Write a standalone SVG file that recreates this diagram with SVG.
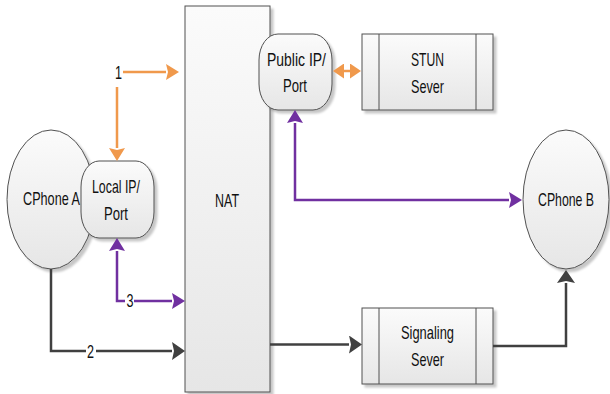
<svg xmlns="http://www.w3.org/2000/svg" width="610" height="394" viewBox="0 0 610 394">
<style>
.shape{fill:url(#g);stroke:#505050;stroke-width:1;filter:url(#sh)}
.in{fill:none;stroke:#505050;stroke-width:1}
text{font-family:"Liberation Sans",Arial,sans-serif;font-size:18.5px;fill:#111;text-anchor:middle}
.c{fill:none;stroke-width:2.5}
.or{stroke:#F0994C}
.pu{stroke:#7030A0}
.dk{stroke:#404040}
.lb{fill:#fff}
</style>
<defs>
<linearGradient id="g" x1="0" y1="0" x2="0" y2="1">
<stop offset="0" stop-color="#fbfbfb"/>
<stop offset="1" stop-color="#e6e6e6"/>
</linearGradient>
<filter id="sh" x="-10%" y="-10%" width="130%" height="130%">
<feDropShadow dx="3" dy="3" stdDeviation="1" flood-color="#000" flood-opacity="0.22"/>
</filter>
<marker id="ao" markerUnits="userSpaceOnUse" markerWidth="14" markerHeight="16" refX="0" refY="8" orient="auto-start-reverse" viewBox="0 0 14 16">
<path d="M0,0 L13,8 L0,16 L2,8 z" fill="#F0994C"/>
</marker>
<marker id="ao2" markerUnits="userSpaceOnUse" markerWidth="12" markerHeight="15" refX="1" refY="7.5" orient="auto-start-reverse" viewBox="0 0 12 15">
<path d="M0,0 L11,7.5 L0,15 z" fill="#F0994C"/>
</marker>
<marker id="ap" markerUnits="userSpaceOnUse" markerWidth="14" markerHeight="16" refX="0" refY="8" orient="auto-start-reverse" viewBox="0 0 14 16">
<path d="M0,0 L13,8 L0,16 L2,8 z" fill="#7030A0"/>
</marker>
<marker id="ad" markerUnits="userSpaceOnUse" markerWidth="14" markerHeight="18" refX="0" refY="9" orient="auto-start-reverse" viewBox="0 0 14 18">
<path d="M0,0 L13,9 L0,18 L2,9 z" fill="#404040"/>
</marker>
</defs>
<rect width="610" height="394" fill="#fff"/>

<g id="nat">
<rect class="shape" x="185" y="6" width="85" height="386"/>
<text x="227" y="207" textLength="24" lengthAdjust="spacingAndGlyphs">NAT</text>
</g>

<g id="public-ip">
<rect class="shape" x="259" y="34" width="73" height="76" rx="19" ry="26"/>
<text x="296.5" y="66" textLength="59" lengthAdjust="spacingAndGlyphs">Public IP/</text>
<text x="295" y="92" textLength="24" lengthAdjust="spacingAndGlyphs">Port</text>
</g>

<g id="stun">
<rect class="shape" x="362" y="34" width="131" height="76"/>
<line class="in" x1="379" y1="34" x2="379" y2="110"/>
<line class="in" x1="476" y1="34" x2="476" y2="110"/>
<text x="427.5" y="66" textLength="33" lengthAdjust="spacingAndGlyphs">STUN</text>
<text x="427.5" y="93" textLength="33" lengthAdjust="spacingAndGlyphs">Sever</text>
</g>

<g id="signaling">
<rect class="shape" x="362" y="308" width="131" height="76"/>
<line class="in" x1="379" y1="308" x2="379" y2="384"/>
<line class="in" x1="476" y1="308" x2="476" y2="384"/>
<text x="427.5" y="339" textLength="53" lengthAdjust="spacingAndGlyphs">Signaling</text>
<text x="427.5" y="366" textLength="33" lengthAdjust="spacingAndGlyphs">Sever</text>
</g>

<g id="cphone-a">
<ellipse class="shape" cx="51" cy="199.5" rx="44" ry="69.5"/>
<text x="51.5" y="205" textLength="57" lengthAdjust="spacingAndGlyphs">CPhone A</text>
</g>

<g id="local-ip">
<rect class="shape" x="81" y="161" width="73" height="77" rx="18" ry="26"/>
<text x="116" y="193" textLength="48" lengthAdjust="spacingAndGlyphs">Local IP/</text>
<text x="116" y="220" textLength="24" lengthAdjust="spacingAndGlyphs">Port</text>
</g>

<g id="cphone-b">
<ellipse class="shape" cx="566" cy="199.5" rx="43" ry="69.5"/>
<text transform="translate(566,206) scale(1,1.23)" x="0" y="0" style="font-size:15px" textLength="56" lengthAdjust="spacingAndGlyphs">CPhone B</text>
</g>

<g id="connectors">
<path class="c or" d="M117,148 V72 H166" marker-start="url(#ao)" marker-end="url(#ao)"/>
<rect class="lb" x="111" y="63" width="12" height="24"/>
<text x="118.5" y="79" textLength="7" lengthAdjust="spacingAndGlyphs">1</text>

<path class="c or" d="M343,71 H351" marker-start="url(#ao2)" marker-end="url(#ao2)"/>

<path class="c pu" d="M117,251 V301 H172" marker-start="url(#ap)" marker-end="url(#ap)"/>
<rect class="lb" x="125" y="293" width="9" height="16"/>
<text x="130" y="307" textLength="7" lengthAdjust="spacingAndGlyphs">3</text>

<path class="c dk" d="M51,269 V351 H172" marker-end="url(#ad)"/>
<rect class="lb" x="86" y="344" width="10" height="16"/>
<text x="90.5" y="358" textLength="7" lengthAdjust="spacingAndGlyphs">2</text>

<path class="c pu" d="M295,123 V200 H509" marker-start="url(#ap)" marker-end="url(#ap)"/>

<path class="c dk" d="M270,344.5 H349" marker-end="url(#ad)"/>

<path class="c dk" d="M493,346 H566 V283" marker-end="url(#ad)"/>
</g>
</svg>
